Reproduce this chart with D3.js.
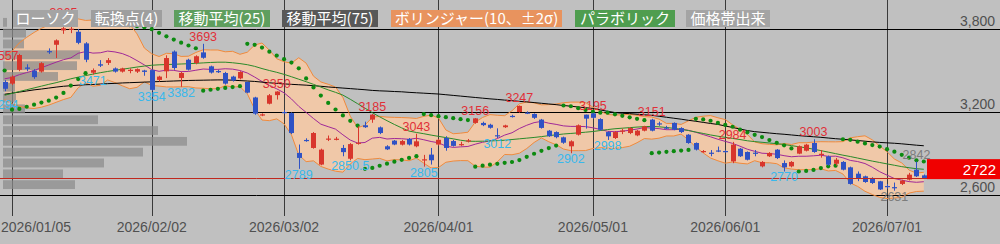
<!DOCTYPE html>
<html><head><meta charset="utf-8">
<script src="https://cdn.jsdelivr.net/npm/d3@7"></script>
<style>body{margin:0;background:#c0c0c0;overflow:hidden}svg{display:block}</style>
</head><body>
<svg id="chart" width="1000" height="244"></svg>
<script>
const dates = ["2025-12-30",
"2026-01-05","2026-01-06","2026-01-07","2026-01-08","2026-01-09","2026-01-13","2026-01-14","2026-01-15","2026-01-16","2026-01-19","2026-01-20","2026-01-21","2026-01-22","2026-01-23","2026-01-26","2026-01-27","2026-01-28","2026-01-29","2026-01-30",
"2026-02-02","2026-02-03","2026-02-04","2026-02-05","2026-02-06","2026-02-09","2026-02-10","2026-02-12","2026-02-13","2026-02-16","2026-02-17","2026-02-18","2026-02-19","2026-02-20","2026-02-24","2026-02-25","2026-02-26","2026-02-27",
"2026-03-02","2026-03-03","2026-03-04","2026-03-05","2026-03-06","2026-03-09","2026-03-10","2026-03-11","2026-03-12","2026-03-13","2026-03-16","2026-03-17","2026-03-18","2026-03-19","2026-03-23","2026-03-24","2026-03-25","2026-03-26","2026-03-27","2026-03-30","2026-03-31",
"2026-04-01","2026-04-02","2026-04-03","2026-04-06","2026-04-07","2026-04-08","2026-04-09","2026-04-10","2026-04-13","2026-04-14","2026-04-15","2026-04-16","2026-04-17","2026-04-20","2026-04-21","2026-04-22","2026-04-23","2026-04-24","2026-04-27","2026-04-28","2026-04-30",
"2026-05-01","2026-05-07","2026-05-08","2026-05-11","2026-05-12","2026-05-13","2026-05-14","2026-05-15","2026-05-18","2026-05-19","2026-05-20","2026-05-21","2026-05-22","2026-05-25","2026-05-26","2026-05-27","2026-05-28","2026-05-29",
"2026-06-01","2026-06-02","2026-06-03","2026-06-04","2026-06-05","2026-06-08","2026-06-09","2026-06-10","2026-06-11","2026-06-12","2026-06-15","2026-06-16","2026-06-17","2026-06-18","2026-06-19","2026-06-22","2026-06-23","2026-06-24","2026-06-25","2026-06-26","2026-06-29","2026-06-30",
"2026-07-01","2026-07-02","2026-07-03","2026-07-06","2026-07-07","2026-07-08"];

const open = [3417,3405,3505,3522,3499,3492,3640,3686,3790,3795,
3780,3696,3484,3545,3555,3515,3492,3498,3492,3500,
3503,3432,3494,3637,3446,3578,3554,3631,3530,3496,
3482,3456,3443,3417,3305,3178,3260,3322,3200,3192,
2904,2998,2940,2820,3003,3002,2940,2862,2974,3104,
3145,3089,2952,2993,2964,3005,2952,2853,2892,2965,
3012,2990,2962,2990,3121,3121,3108,3032,3090,3172,
3200,3196,3186,3145,3065,3055,3017,2952,3036,3181,
3190,3149,3055,3012,3062,3048,3031,3065,3145,3118,
3088,3121,3084,3036,2976,2913,2906,2922,2918,2843,
2935,2911,2906,2807,2880,2928,2831,2807,2899,2920,
2976,2894,2879,2826,2839,2800,2754,2735,2723,2699,
2665,2657,2680,2711,2783,2742];
const high = [3430,3465,3620,3545,3510,3560,3660,3725,3865,3830,
3800,3705,3515,3575,3590,3522,3520,3515,3515,3505,
3508,3462,3610,3645,3490,3585,3610,3693,3535,3505,
3490,3462,3495,3420,3310,3190,3330,3350,3215,3198,
2965,3010,3055,2935,3030,3020,2962,2975,3096,3130,
3185,3095,2960,2998,2998,3012,3043,2890,2940,3005,
3025,2998,2985,3005,3156,3130,3115,3082,3108,3180,
3247,3205,3190,3150,3070,3060,3022,2995,3110,3181,
3195,3155,3060,3062,3080,3090,3070,3100,3151,3130,
3100,3125,3090,3040,2980,2925,2925,2950,2925,2984,
2940,2915,2925,2845,2910,2932,2850,2845,2958,2970,
3003,2925,2885,2868,2845,2805,2770,2740,2728,2702,
2680,2690,2710,2760,2842,2748];
const low = [3350,3395,3495,3495,3440,3485,3620,3590,3765,3770,
3690,3560,3471,3525,3540,3485,3485,3480,3482,3462,
3354,3420,3445,3505,3382,3500,3545,3585,3478,3482,
3398,3420,3436,3335,3180,3170,3255,3290,3185,3040,
2789,2985,2935,2815,2990,2995,2880,2850.5,2964,3085,
3122,3040,2925,2960,2958,2958,2945,2805,2820,2958,
2920,2950,2955,2980,3115,3098,3080,3012,3085,3160,
3195,3185,3150,3080,3020,3010,2970,2902,3030,3080,
3150,3065,2998,3005,3040,3040,3025,3060,3060,3100,
3075,3068,3048,2970,2922,2905,2880,2910,2905,2830,
2875,2850,2880,2800,2875,2860,2770,2800,2895,2915,
2905,2870,2812,2812,2778,2675,2700,2688,2680,2636,
2645,2631,2672,2705,2730,2718];
const close = [3368,3456,3612,3512,3452,3553,3634,3718,3805,3802,
3700,3578,3503,3535,3575,3492,3515,3505,3510,3490,
3360,3456,3590,3518,3482,3506,3603,3592,3485,3490,
3405,3428,3489,3340,3188,3183,3321,3348,3195,3048,
2868,2992,3048,2928,3008,3007,2910,2968,2978,3090,
3181,3048,2930,2965,2990,2965,2988,2858,2851,2999,
2940,2955,2968,2995,3154,3105,3086,3026,3103,3168,
3244,3192,3158,3085,3025,3018,2978,2988,3104,3152,
3158,3072,3024,3055,3066,3084,3065,3096,3065,3112,
3082,3072,3055,2976,2928,2918,2902,2918,2914,2964,
2880,2855,2902,2839,2904,2867,2800,2839,2952,2964,
2911,2898,2819,2855,2783,2680,2718,2694,2687,2640,
2661,2653,2704,2747,2735,2722];

const ma25 = [3321,3335,3348,3361,3374,3387,3400,3412,3426,3440,
3452,3463,3474,3484,3493,3501,3509,3517,3525,3532,
3538,3541,3543,3545,3547,3549,3552,3555,3558,3560,
3560,3556,3550,3542,3530,3514,3500,3487,3472,3455,
3437,3419,3400,3380,3360,3342,3322,3292,3260,3228,
3195,3165,3137,3110,3085,3062,3052,3043,3033,3024,
3015,3006,2996,2989,2988,2989,2991,2993,2996,3001,
3006,3011,3016,3022,3029,3035,3041,3045,3049,3054,
3059,3066,3073,3079,3083,3087,3091,3094,3096,3093,
3088,3082,3075,3066,3055,3045,3034,3025,3017,3009,
3001,2992,2986,2981,2976,2971,2965,2957,2949,2941,
2931,2921,2910,2899,2888,2878,2867,2856,2845,2835,
2825,2815,2805,2797,2790,2786];
const ma75 = [3328,3336,3344,3352,3360,3366,3373,3380,3386,3390,
3394,3397,3399,3402,3405,3407,3410,3412,3414,3416,
3418,3420,3422,3424,3426,3428,3429,3430,3431,3432,
3432,3430,3427,3424,3421,3416,3411,3407,3403,3400,
3397,3394,3390,3386,3381,3377,3373,3369,3365,3361,
3356,3353,3351,3348,3346,3342,3339,3336,3333,3330,
3325,3320,3315,3310,3305,3300,3295,3291,3286,3282,
3277,3273,3268,3263,3258,3253,3247,3242,3236,3231,
3226,3215,3205,3196,3191,3188,3184,3180,3176,3169,
3162,3155,3148,3140,3133,3125,3117,3110,3099,3088,
3077,3066,3058,3053,3048,3043,3039,3034,3029,3025,
3021,3017,3012,3007,3003,2998,2994,2989,2984,2980,
2977,2974,2970,2965,2960,2956];

// Bollinger values for the first candles (window extends before the visible range)
const bbHeadUp  = [3590,3640,3700,3740,3775,3805,3830,3850,3868];
const bbHeadMid = [3440,3450,3470,3485,3500,3520,3540,3560,3578];
const bbHeadLow = [3290,3260,3240,3230,3225,3235,3250,3270,3290];
const bbPeriod = 10, bbK = 2;

// parabolic SAR: first two readings (state before the visible range)
const sarSeed = [3500, 3217];

// turning points (転換点)
const tpIndex = [0,0,8,12,20,24,27,37,40,47,50,56,57,64,67,70,77,80,82,88,99,106,110,121,124];
const tpValue = [3557,3294,3865,3471,3354,3382,3693,3350,2789,2850.5,3185,3043,2805,3156,3012,3247,2902,3195,2998,3151,2984,2770,3003,2631,2842];
const tpKind  = ["H","L","H","L","L","L","H","H","L","L","H","H","L","H","L","H","L","H","L","H","H","L","H","PL","PH"];

// volume by price (価格帯出来)
const vpLower  = [2636,2714,2792,2871,2949,3027,3105,3183,3262,3340,3418,3496,3574,3653,3731,3809];
const vpUpperTop = 3887;
const vpVolume = [72,60,101,140,184,155,95,22,13,12,55,74,77,21,23,4];

const yTicks = [2600,3200,3800];
const xTickDates  = ["2026-01-05","2026-02-02","2026-03-02","2026-04-01","2026-05-01","2026-06-01","2026-07-01"];
const xTickLabels = ["2026/01/05","2026/02/02","2026/03/02","2026/04/01","2026/05/01","2026/06/01","2026/07/01"];
const legendLabels = ["ローソク","転換点(4)","移動平均(25)","移動平均(75)","ボリンジャー(10、±2σ)","パラボリック","価格帯出来"];

// ---------------------------------------------------------------
const n = dates.length;
const svg = d3.select("#chart");
const W = 1000, H = 244;
const x = d3.scalePoint().domain(dates).range([4.65, 923.8]);
const y = d3.scaleLinear().domain([2600, 3800]).range([195, 29]);
const X = i => x(dates[i]);

// derived indicators
const bbMid = [], bbUp = [], bbLow = [];
for (let i = 0; i < n; i++) {
  if (i < bbPeriod - 1) { bbMid.push(bbHeadMid[i]); bbUp.push(bbHeadUp[i]); bbLow.push(bbHeadLow[i]); continue; }
  const w = close.slice(i - bbPeriod + 1, i + 1);
  const m = d3.mean(w);
  const sd = Math.sqrt(d3.mean(w, v => (v - m) * (v - m)));
  bbMid.push(m); bbUp.push(m + bbK * sd); bbLow.push(m - bbK * sd);
}
const sar = [sarSeed[0], sarSeed[1]];
{
  let up = true, ep = high[1], af = 0.02, s = sarSeed[1];
  for (let i = 2; i < n; i++) {
    let nx = s + af * (ep - s);
    if (up) {
      nx = Math.min(nx, low[i-1], low[i-2]);
      if (low[i] < nx) { up = false; nx = ep; ep = low[i]; af = 0.02; }
      else if (high[i] > ep) { ep = high[i]; af = Math.min(af + 0.02, 0.2); }
    } else {
      nx = Math.max(nx, high[i-1], high[i-2]);
      if (high[i] > nx) { up = true; nx = ep; ep = high[i]; af = 0.02; }
      else if (low[i] < ep) { ep = low[i]; af = Math.min(af + 0.02, 0.2); }
    }
    sar.push(nx); s = nx;
  }
}

svg.append("rect").attr("width", W).attr("height", H).attr("fill", "#c0c0c0");

const idx = d3.range(n);
// Bollinger band fill
svg.append("path").datum(idx)
  .attr("d", d3.area().x(i => X(i)).y0(i => y(bbLow[i])).y1(i => y(bbUp[i])))
  .attr("fill", "#f0c8a8");

// grid
svg.append("g").selectAll("line").data(xTickDates).join("line")
  .attr("x1", d => Math.round(x(d)) + 0.5).attr("x2", d => Math.round(x(d)) + 0.5)
  .attr("y1", 0).attr("y2", 216).attr("stroke", "#3a3a3a").attr("stroke-width", 1);
svg.append("g").selectAll("line").data(yTicks).join("line")
  .attr("x1", 0).attr("x2", W)
  .attr("y1", d => Math.round(y(d)) + 0.5).attr("y2", d => Math.round(y(d)) + 0.5)
  .attr("stroke", "#000").attr("stroke-width", 1);

// volume profile
const vx = d3.scaleLinear().domain([0, d3.max(vpVolume)]).range([0, 184]);
const vpTop = k => k < vpLower.length - 1 ? vpLower[k + 1] : vpUpperTop;
svg.append("g").selectAll("rect").data(vpVolume).join("rect")
  .attr("x", 3)
  .attr("y", (d, k) => y(vpTop(k)) + 1)
  .attr("width", d => vx(d))
  .attr("height", (d, k) => y(vpLower[k]) - y(vpTop(k)) - 2)
  .attr("fill", "#8a8a8a").attr("opacity", 0.72);

// band and moving-average lines
const lineOf = arr => d3.line().x(i => X(i)).y(i => y(arr[i]));
const addLine = (arr, color) => svg.append("path").datum(idx).attr("d", lineOf(arr))
  .attr("fill", "none").attr("stroke", color).attr("stroke-width", 1);
addLine(bbUp, "#f08a3c");
addLine(bbLow, "#f08a3c");
addLine(bbMid, "#a02898");
addLine(ma75, "#000");
addLine(ma25, "#2a8a2a");

// SAR dots
svg.append("g").selectAll("circle").data(idx).join("circle")
  .attr("cx", i => X(i)).attr("cy", i => y(sar[i])).attr("r", 2.1).attr("fill", "#0c8a10");

// candles
const isUp = i => close[i] >= open[i];
const cg = svg.append("g");
cg.selectAll("line").data(idx).join("line")
  .attr("x1", i => Math.round(X(i)) + 0.5).attr("x2", i => Math.round(X(i)) + 0.5)
  .attr("y1", i => y(high[i])).attr("y2", i => y(low[i]))
  .attr("stroke", i => isUp(i) ? "#d8362c" : "#2f52c4").attr("stroke-width", 1);
cg.selectAll("rect").data(idx).join("rect")
  .attr("x", i => Math.round(X(i)) - 2).attr("width", 5)
  .attr("y", i => y(Math.max(open[i], close[i])))
  .attr("height", i => Math.max(1.2, Math.abs(y(open[i]) - y(close[i]))))
  .attr("fill", i => isUp(i) ? "#d8362c" : "#2f52c4");

// last price line
const last = close[n - 1];
svg.append("line").attr("x1", 0).attr("x2", 927).attr("y1", Math.round(y(last)) + 0.5).attr("y2", Math.round(y(last)) + 0.5)
  .attr("stroke", "#c0281e").attr("stroke-width", 1);

// turning point labels
const tpColor = {H: "#e03038", L: "#38b8ec", PH: "#7c7c7c", PL: "#7c7c7c"};
const isHigh = k => tpKind[k] === "H" || tpKind[k] === "PH";
svg.append("g").selectAll("text").data(tpIndex).join("text")
  .attr("x", d => X(d))
  .attr("y", (d, k) => isHigh(k) ? y(tpValue[k]) - 3 : y(tpValue[k]) + 10)
  .attr("text-anchor", "middle")
  .attr("font-family", "Liberation Sans, Arial, sans-serif").attr("font-size", 12.5)
  .attr("fill", (d, k) => tpColor[tpKind[k]])
  .text((d, k) => tpValue[k]);

// price axis labels
svg.append("g").selectAll("text").data(yTicks).join("text")
  .attr("x", 995).attr("y", d => y(d) - 3).attr("text-anchor", "end")
  .attr("font-family", "Liberation Sans, Arial, sans-serif").attr("font-size", 14).attr("fill", "#505050")
  .text(d => d3.format(",")(d));

// current price box
svg.append("rect").attr("x", 927).attr("y", y(last) - 19).attr("width", 73).attr("height", 20).attr("fill", "#f00000");
svg.append("text").attr("x", 996).attr("y", y(last) - 3.5).attr("text-anchor", "end")
  .attr("font-family", "Liberation Sans, Arial, sans-serif").attr("font-size", 15).attr("fill", "#fff").text(last);

// date labels (kept inside the picture at the left edge)
svg.append("g").selectAll("text").data(xTickDates).join("text")
  .attr("x", d => x(d)).attr("y", 232).attr("text-anchor", "middle")
  .attr("font-family", "Liberation Sans, Arial, sans-serif").attr("font-size", 14).attr("fill", "#505050")
  .text((d, k) => xTickLabels[k])
  .each(function(d) {
    const w = this.getComputedTextLength();
    if (x(d) - w / 2 < 1) d3.select(this).attr("x", 1 + w / 2);
  });

// legend
const legX = [13, 91, 174, 282, 391, 575, 686];
const legW = [65, 71, 96, 96, 171, 100, 84];
const legFill = ["#a4a4a4", "#9e9e9e", "#5e9e5e", "#585858", "#e8935e", "#4f9d4f", "#a4a4a4"];
const lg = svg.append("g").selectAll("g").data(legendLabels).join("g");
lg.append("rect").attr("x", (d, k) => legX[k]).attr("y", 10).attr("width", (d, k) => legW[k]).attr("height", 17)
  .attr("fill", (d, k) => legFill[k]);
lg.append("text").attr("x", (d, k) => legX[k] + legW[k] / 2).attr("y", 24).attr("text-anchor", "middle")
  .attr("font-family", "Noto Sans CJK JP, sans-serif").attr("font-size", 15).attr("fill", "#fff")
  .text(d => d);
</script>
</body></html>
